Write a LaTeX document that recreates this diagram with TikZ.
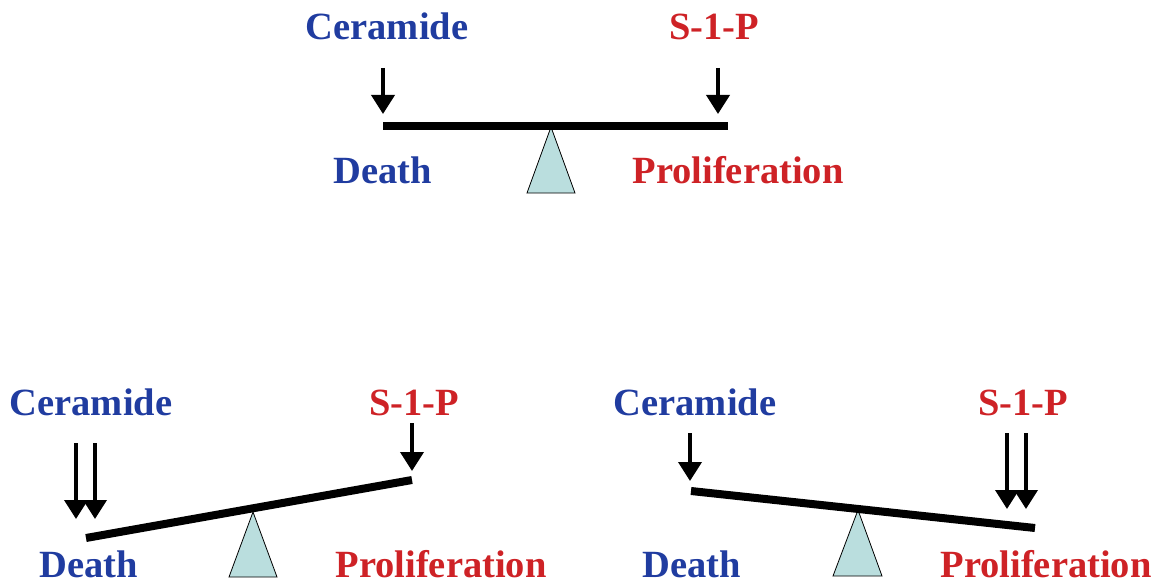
\documentclass[tikz,border=0pt]{standalone}
\usepackage{fontspec}
\setmainfont{Liberation Serif}
\usetikzlibrary{arrows.meta}
\definecolor{cerblue}{RGB}{32,60,160}
\definecolor{sopred}{RGB}{206,34,38}
\definecolor{fulcfill}{RGB}{186,222,222}

\begin{document}
\begin{tikzpicture}[x=1pt,y=-1pt]

\def\beamw{8pt}
\def\arrw{3.8pt}
\def\lblfont{\fontsize{38.5}{42}\selectfont\bfseries}

\tikzset{lbl/.style = {inner sep=0pt, anchor=base, font=\lblfont}}
\tikzset{cer/.style = {lbl, text=cerblue}}
\tikzset{sop/.style = {lbl, text=sopred}}
\tikzset{beam/.style = {line width=\beamw}}
\tikzset{push/.style = {line width=\arrw, -{Triangle[width=23pt 0,length=19pt 0]}}}
\tikzset{fulc/.style = {draw, line width=0.8pt, fill=fulcfill}}

\useasboundingbox (0,0) rectangle (1163,586);

% B1
\node[cer] (c1) at (387,40) {Ceramide};
\node[sop] (s1) at (714,40) {S-1-P};
\node[cer] (d1) at (383,183) {Death};
\node[sop] (p1) at (738,183) {Proliferation};

\coordinate (b1l) at (383,126);
\coordinate (b1r) at (728,126);
\coordinate (f1t) at (551,127);
\coordinate (f1l) at (527,193);
\coordinate (f1r) at (575,193);

\draw[fulc] (f1t) -- (f1l) -- (f1r) -- cycle;
\draw[beam] (b1l) -- (b1r);

\coordinate (a11t) at (383,68);
\coordinate (a11h) at (383,114);
\coordinate (a12t) at (718,68);
\coordinate (a12h) at (718,114);
\draw[push] (a11t) -- (a11h);
\draw[push] (a12t) -- (a12h);

% B2
\node[cer] (c2) at (91,415) {Ceramide};
\node[sop] (s2) at (414,415) {S-1-P};
\node[cer] (d2) at (89,577) {Death};
\node[sop] (p2) at (441,577) {Proliferation};

\coordinate (b2l) at (86,538);
\coordinate (b2r) at (412,480);
\coordinate (f2t) at (253,512);
\coordinate (f2l) at (229,577);
\coordinate (f2r) at (277,577);

\draw[fulc] (f2t) -- (f2l) -- (f2r) -- cycle;
\draw[beam] (b2l) -- (b2r);

\coordinate (a21t) at (76,443);
\coordinate (a21h) at (76,519);
\coordinate (a22t) at (95,443);
\coordinate (a22h) at (95,519);
\coordinate (a23t) at (412,423);
\coordinate (a23h) at (412,471);
\draw[push] (a21t) -- (a21h);
\draw[push] (a22t) -- (a22h);
\draw[push] (a23t) -- (a23h);

% B3
\node[cer] (c3) at (695,415) {Ceramide};
\node[sop] (s3) at (1023,415) {S-1-P};
\node[cer] (d3) at (692,577) {Death};
\node[sop] (p3) at (1046,577) {Proliferation};

\coordinate (b3l) at (691,491);
\coordinate (b3r) at (1035,528);
\coordinate (f3t) at (858,510);
\coordinate (f3l) at (833,576);
\coordinate (f3r) at (882,576);

\draw[fulc] (f3t) -- (f3l) -- (f3r) -- cycle;
\draw[beam] (b3l) -- (b3r);

\coordinate (a31t) at (690,433);
\coordinate (a31h) at (690,481);
\coordinate (a32t) at (1007,433);
\coordinate (a32h) at (1007,509);
\coordinate (a33t) at (1026,433);
\coordinate (a33h) at (1026,509);
\draw[push] (a31t) -- (a31h);
\draw[push] (a32t) -- (a32h);
\draw[push] (a33t) -- (a33h);

\end{tikzpicture}
\end{document}
